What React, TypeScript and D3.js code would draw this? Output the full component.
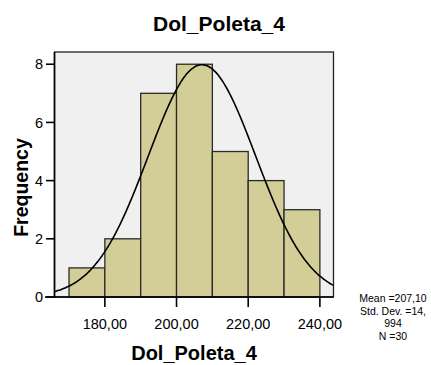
import React from "react";
import * as d3 from "d3";

// Histogram bins (lower edge, width 10) and their frequencies
const binStarts = [170, 180, 190, 200, 210, 220, 230];
const binCounts = [1, 2, 7, 8, 5, 4, 3];
const binWidth = 10;

const xTicks = [180, 200, 220, 240];
const yTicks = [0, 2, 4, 6, 8];

const title = "Dol_Poleta_4";
const xLabel = "Dol_Poleta_4";
const yLabel = "Frequency";

const mean = 207.1;
const stdDev = 14.994;
const n = 30;
const statLines = ["Mean =207,10", "Std. Dev. =14,", "994", "N =30"];

const W = 431;
const H = 365;
const plot = { left: 54.5, right: 333.5, top: 52, bottom: 297 };

const fmt = (v: number) => v.toFixed(2).replace(".", ",");

export default function App() {
  const x = d3.scaleLinear().domain([165.95, 243.8]).range([plot.left, plot.right]);
  const y = d3.scaleLinear().domain([0, 8.42]).range([plot.bottom, plot.top]);

  // Normal curve scaled to histogram counts
  const density = (v: number) =>
    (n * binWidth) / (stdDev * Math.sqrt(2 * Math.PI)) *
    Math.exp(-0.5 * ((v - mean) / stdDev) ** 2);
  const curvePts = d3.range(0, 201).map((i) => {
    const [a, b] = x.domain();
    const v = a + ((b - a) * i) / 200;
    return [x(v), y(density(v))] as [number, number];
  });
  const line = d3.line().curve(d3.curveBasis)(curvePts) || "";

  const font = "Arial, 'Liberation Sans', Helvetica, sans-serif";

  return (
    <svg
      width={W}
      height={H}
      style={{ position: "fixed", left: 0, top: 0, background: "#fff" }}
      fontFamily={font}
    >
      <defs>
        <clipPath id="plotClip">
          <rect x={plot.left} y={plot.top} width={plot.right - plot.left} height={plot.bottom - plot.top} />
        </clipPath>
      </defs>
      <text x={219} y={30.5} textAnchor="middle" fontSize={21} fontWeight="bold" fill="#000">
        {title}
      </text>

      {/* plot background */}
      <rect
        x={plot.left}
        y={plot.top}
        width={plot.right - plot.left}
        height={plot.bottom - plot.top}
        fill="#f0f0f0"
      />

      {/* bars */}
      {binStarts.map((s, i) => (
        <rect
          key={s}
          x={x(s)}
          y={y(binCounts[i])}
          width={x(s + binWidth) - x(s)}
          height={y(0) - y(binCounts[i])}
          fill="#d3ce98"
          stroke="#2a2a2a"
          strokeWidth={1.3}
        />
      ))}

      {/* normal curve */}
      <path d={line} fill="none" stroke="#000" strokeWidth={1.6} clipPath="url(#plotClip)" />

      {/* frame */}
      <rect
        x={plot.left}
        y={plot.top}
        width={plot.right - plot.left}
        height={plot.bottom - plot.top}
        fill="none"
        stroke="#222"
        strokeWidth={1.3}
      />

      {/* y axis */}
      <line x1={plot.left} x2={plot.left} y1={plot.top} y2={plot.bottom} stroke="#000" strokeWidth={1.6} />
      {yTicks.map((t) => (
        <g key={t}>
          <line x1={46} x2={plot.left} y1={y(t)} y2={y(t)} stroke="#000" strokeWidth={1.6} />
          <text x={43} y={y(t)} dy="0.36em" textAnchor="end" fontSize={14.5} fill="#000">
            {t}
          </text>
        </g>
      ))}

      {/* x axis */}
      <line x1={45} x2={plot.right} y1={plot.bottom} y2={plot.bottom} stroke="#000" strokeWidth={1.6} />
      {xTicks.map((t) => (
        <g key={t}>
          <line x1={x(t)} x2={x(t)} y1={plot.bottom} y2={307} stroke="#000" strokeWidth={1.6} />
          <text x={x(t)} y={328.5} textAnchor="middle" fontSize={14.5} fill="#000">
            {fmt(t)}
          </text>
        </g>
      ))}

      <text x={194} y={360} textAnchor="middle" fontSize={20} fontWeight="bold" fill="#000">
        {xLabel}
      </text>
      <text
        transform={`translate(27.5, 187.5) rotate(-90)`}
        textAnchor="middle"
        fontSize={19.5}
        fontWeight="bold"
        fill="#000"
      >
        {yLabel}
      </text>

      {/* summary statistics */}
      {statLines.map((s, i) => (
        <text key={i} x={393} y={301.7 + i * 12.8} textAnchor="middle" fontSize={10.5} fill="#000">
          {s}
        </text>
      ))}
    </svg>
  );
}
